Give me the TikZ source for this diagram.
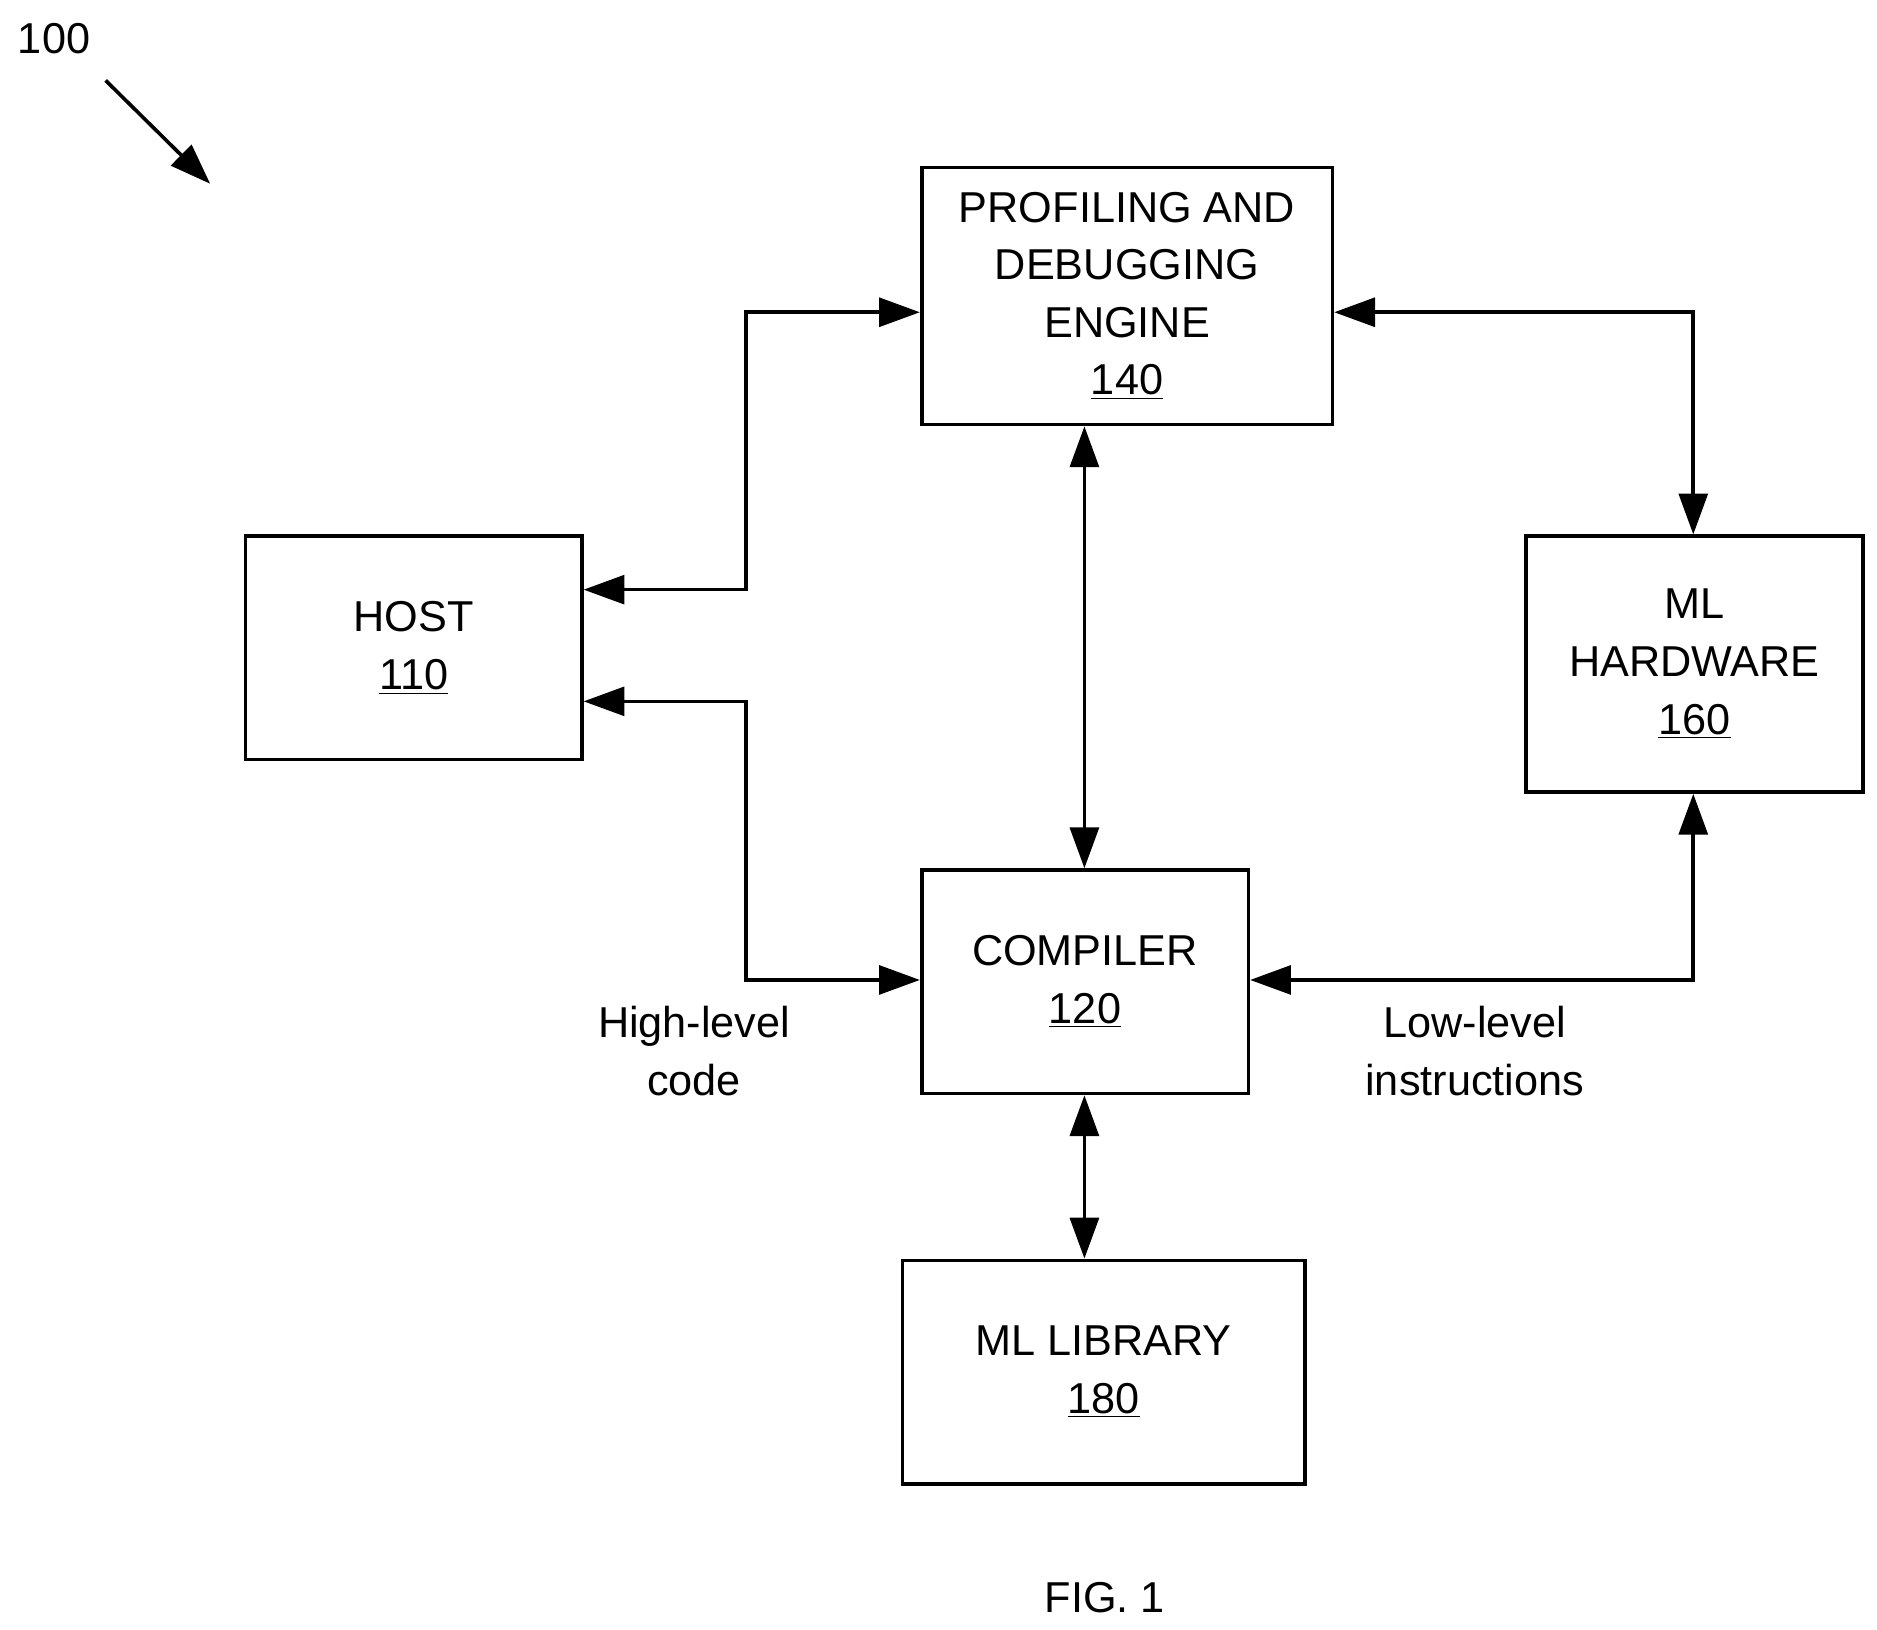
\documentclass[tikz,border=0pt]{standalone}
\usepackage{fontspec}
\setmainfont{Liberation Sans}
\usetikzlibrary{arrows.meta}
\begin{document}
\begin{tikzpicture}[x=0.5pt,y=-0.5pt,
  box/.style={draw,line width=1.5pt,inner sep=0pt,anchor=north west,align=center,font=\fontsize{18}{24}\selectfont},
  lbl/.style={align=center,font=\fontsize{18}{24}\selectfont},
  con/.style={line width=1.5pt,{Triangle[length=17pt,width=12pt]}-{Triangle[length=17pt,width=12pt]}}]
\useasboundingbox (0,0) rectangle (1563,1357);
\node[box,minimum width=171pt,minimum height=107pt] (pde) at (766,138) {PROFILING AND\\DEBUGGING\\ENGINE\\\underline{140}};
\node[box,minimum width=140pt,minimum height=93pt] (host) at (203,445) {HOST\\\underline{110}};
\node[box,minimum width=140.5pt,minimum height=106.5pt] (hw) at (1269,445) {ML\\HARDWARE\\\underline{160}};
\node[box,minimum width=136pt,minimum height=93pt] (comp) at (766,723) {COMPILER\\\underline{120}};
\node[box,minimum width=167.5pt,minimum height=93pt] (lib) at (750,1048) {ML LIBRARY\\\underline{180}};
\coordinate (a1) at (621,491); \coordinate (a2) at (621,260);
\coordinate (b1) at (621,584); \coordinate (b2) at (621,816);
\coordinate (c1) at (1410,260); \coordinate (d1) at (1410,816);
\draw[con] (host.east |- a1) -- (a1) -- (a2) -- (pde.west |- a2);
\draw[con] (host.east |- b1) -- (b1) -- (b2) -- (comp.west |- b2);
\draw[con] (pde.south -| 903,0) -- (comp.north -| 903,0);
\draw[con] (comp.south -| 903,0) -- (lib.north -| 903,0);
\draw[con] (pde.east |- c1) -- (c1) -- (hw.north -| c1);
\draw[con] (comp.east |- d1) -- (d1) -- (hw.south -| d1);
\node[lbl] (hl) at (578,875) {High-level\\code};
\node[lbl] (ll) at (1228,875) {Low-level\\instructions};
\node[lbl] (fig) at (920,1330) {FIG. 1};
\node[lbl] (ref) at (45,32) {100};
\coordinate (r1) at (88,67); \coordinate (r2) at (175,153);
\draw[line width=1.5pt,-{Triangle[length=17pt,width=12pt]}] (r1) -- (r2);
\end{tikzpicture}
\end{document}
